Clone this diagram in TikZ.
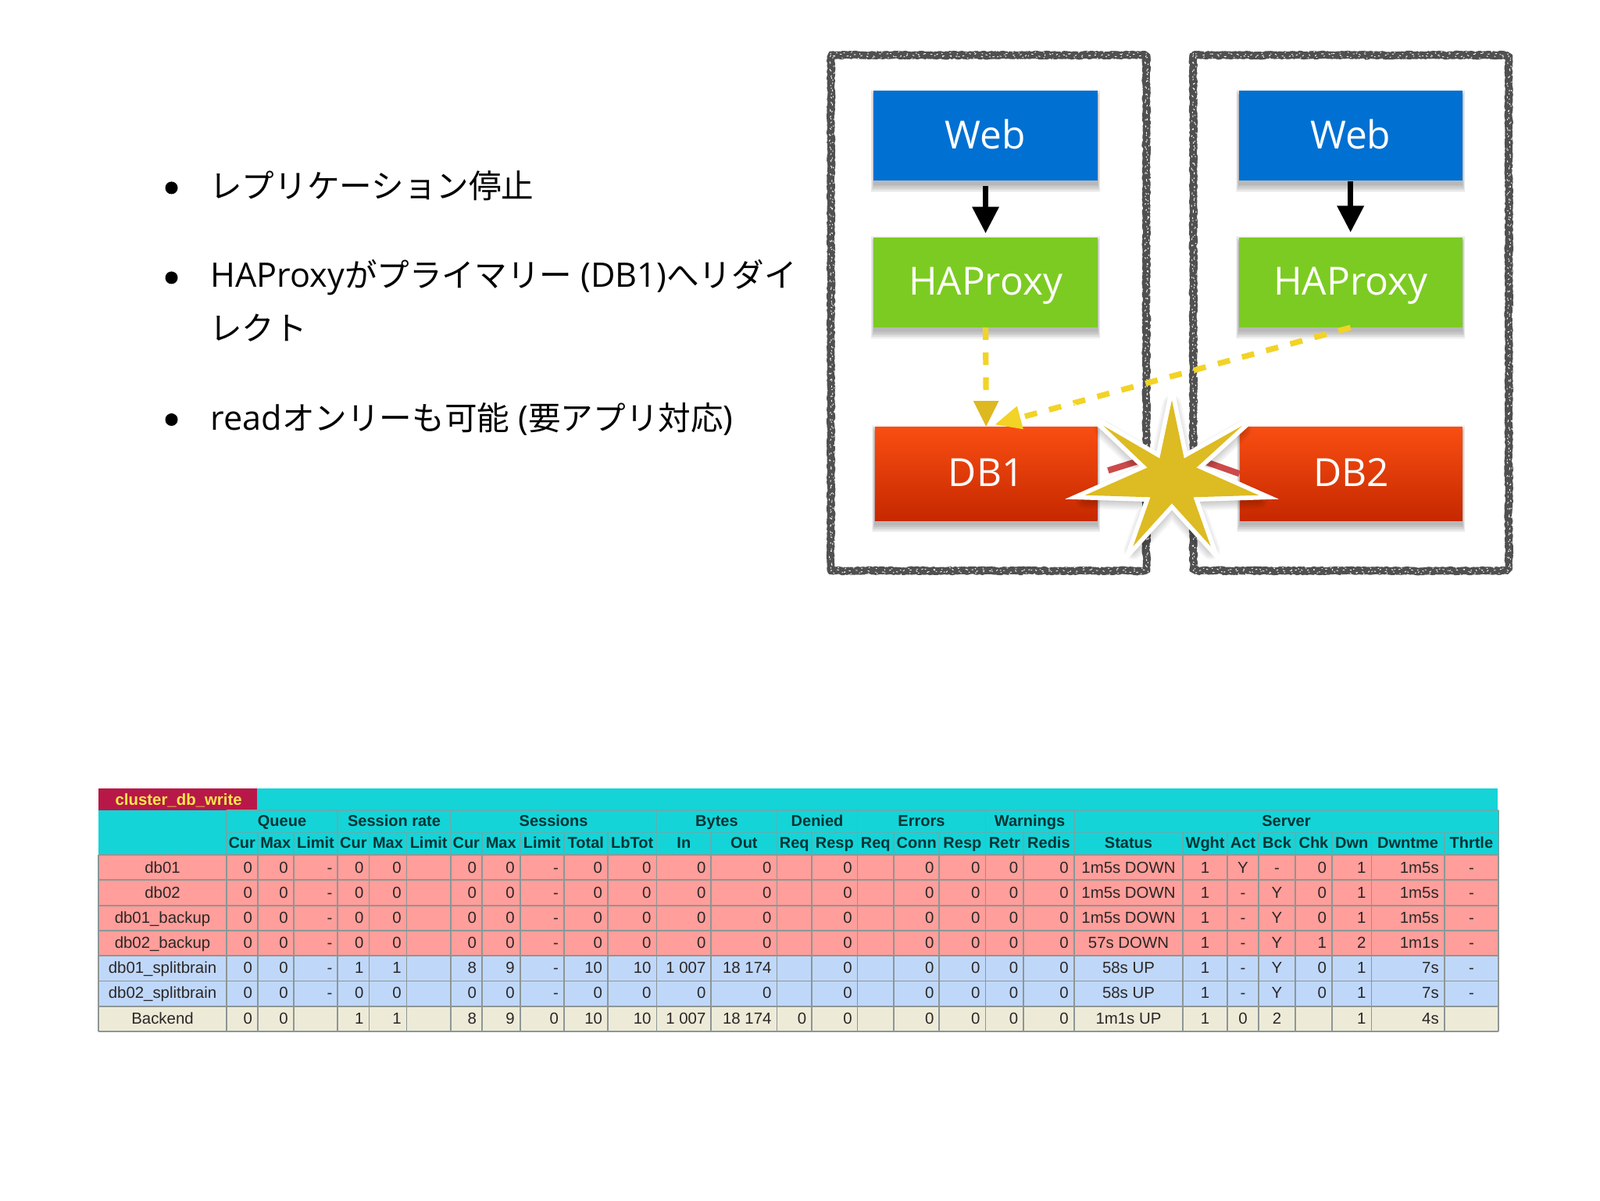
\documentclass[tikz,border=0pt]{standalone}
\usepackage{fontspec}
\setmainfont{Open Sans}
\newfontfamily\jp{Noto Sans CJK JP}
\newfontfamily\tb{Liberation Sans}
\usetikzlibrary{arrows.meta,decorations.pathmorphing,backgrounds,calc}
\definecolor{webblue}{HTML}{0070D2}
\definecolor{hagreen}{HTML}{7CCB22}
\definecolor{dbtop}{HTML}{F94E12}
\definecolor{dbbot}{HTML}{C62800}
\definecolor{chalkc}{HTML}{505050}
\definecolor{dashy}{HTML}{F2D326}
\definecolor{dashd}{HTML}{DDB820}
\definecolor{stargold}{HTML}{DDBB22}
\definecolor{linkred}{HTML}{CC4A4A}
\definecolor{hcyan}{HTML}{14D4D8}
\definecolor{rpink}{HTML}{FF9E9A}
\definecolor{rblue}{HTML}{BFD8FA}
\definecolor{rbeige}{HTML}{EDEBD8}
\definecolor{gridc}{HTML}{8E9696}
\definecolor{gridh}{HTML}{5EAFB0}
\definecolor{titler}{HTML}{B81848}
\definecolor{titley}{HTML}{F4E84A}
\definecolor{celltxt}{HTML}{2C2626}
\tikzset{
  svcbox/.style={minimum width=219*0.6533pt,inner sep=0pt,text=white,text height=16.4pt,text depth=0pt,
    font=\fontsize{24.8pt}{28pt}\selectfont},
  webbox/.style={svcbox,fill=webblue,minimum height=88*0.6533pt},
  habox/.style={svcbox,fill=hagreen,minimum height=88*0.6533pt},
  dbbox/.style={svcbox,top color=dbtop,bottom color=dbbot,minimum height=92*0.6533pt,minimum width=218*0.6533pt},
  solidarrow/.style={line width=3.4pt,-{Triangle[width=16.5pt,length=17pt]}},
  dasharrow/.style={line width=3.6pt,dash pattern=on 8pt off 8pt},
  chalk/.style={chalkc,line width=4.8pt,line join=bevel,decorate,decoration={random steps,segment length=1pt,amplitude=0.55pt}},
  chalkspeck/.style={white,line width=0.45pt,line join=bevel,dash pattern=on 1.2pt off 3.5pt,decorate,decoration={random steps,segment length=2pt,amplitude=1.2pt}},
  bodytext/.style={inner sep=0pt,anchor=base west,font=\fontsize{21.6pt}{25pt}\selectfont},
  bulletdot/.style={circle,fill=black,inner sep=0pt,minimum size=8pt},
  cell/.style={inner sep=0pt,text=celltxt,font=\tb\fontsize{10.2pt}{12pt}\selectfont},
  hcell/.style={inner sep=0pt,anchor=base,text=black!75!hcyan,font=\tb\bfseries\fontsize{10pt}{12pt}\selectfont},
}
\newcommand{\jt}[1]{{\jp\fontsize{20.8pt}{25pt}\selectfont #1}}
\newcommand{\softshadow}[1]{%
  \foreach \k in {0,1,...,6}{%
    \fill[black,opacity=0.045] ([shift={({-0.4*\k},{5-\k})}]#1.north west) rectangle ([shift={({0.4*\k},{4+1.2*\k})}]#1.south east);
  }}
\def\cols{{96.7,221.7,252.4,287.5,330.9,361.6,398.4,441.4,472.1,509.4,552.4,595.4,643.2,696.7,761.1,795.3,840,875.5,920.2,965.4,1002.7,1052.1,1158.9,1202.3,1233,1268.9,1304.8,1343.5,1414.8,1468}}
\newcommand{\colmid}[2]{%
  \pgfmathsetmacro\xaa{\cols[#1]}%
  \pgfmathsetmacro\xbb{\cols[#2]}%
  \pgfmathsetmacro\xx{(\xaa+\xbb)/2}}
\begin{document}
\begin{tikzpicture}[x=0.6533pt,y=-0.6533pt]
\useasboundingbox (0,0) rectangle (1567.4,1175.6);

% bullets and text
\node[bulletdot] (b1) at (168,184) {};
\node[bulletdot] (b2) at (168,272) {};
\node[bulletdot] (b3) at (168,411) {};
\node[bodytext] (t1) at (205,194) {\jt{レプリケーション停止}};
\node[bodytext] (t2) at (206,281) {HAProxy\jt{がプライマリー} (DB1)\jt{へリダイ}};
\node[bodytext] (t2b) at (205,333) {\jt{レクト}};
\node[bodytext] (t3) at (206,421) {read\jt{オンリーも可能} (\jt{要アプリ対応})};

% chalk containers
\foreach \xa/\xb in {814/1123,1169/1478}{
  \draw[chalk] (\xa,54) rectangle (\xb,559);
  \draw[chalk,line width=3.6pt,decoration={random steps,segment length=1.5pt,amplitude=1.2pt}] (\xa,54) rectangle (\xb,559);
  \draw[chalkspeck] (\xa,54) rectangle (\xb,559);
  \draw[chalkspeck,dash pattern=on 0.8pt off 5pt] (\xa,52) rectangle (\xb,557);
  \draw[chalkspeck,dash pattern=on 0.8pt off 5pt] (\xa+2,56) rectangle (\xb+2,561);
}

% service nodes
\node[webbox] (web1) at (965.5,133) {Web};
\node[webbox] (web2) at (1323,133) {Web};
\node[habox] (ha1) at (965.5,276.5) {HAProxy};
\node[habox] (ha2) at (1323,276.5) {HAProxy};
\node[dbbox] (db1) at (966,464) {DB1};
\node[dbbox] (db2) at (1323.5,464) {DB2};
\begin{pgfonlayer}{background}
  \fill[white] (0,0) rectangle (1567.4,1175.6);
  \softshadow{web1}\softshadow{web2}\softshadow{ha1}\softshadow{ha2}\softshadow{db1}\softshadow{db2}
\end{pgfonlayer}

% connectors
\draw[solidarrow,shorten <=3.2pt,shorten >=2.4pt] (web1.south) -- (ha1.north);
\draw[solidarrow,shorten >=3pt] (web2.south) -- (ha2.north);
\coordinate (peak) at (1149,441);
\draw[linkred,line width=4pt,shorten <=7pt] (db1.east) -- (peak) -- (db2.west);
\draw[dashy,dasharrow] (ha1.south) -- ($(db1.north)+(0,-24)$);
\coordinate (db1tip) at (db1.north);
\fill[dashd] (db1tip) -- ++(-12.5,-25) -- ++(25,0) -- cycle;
\coordinate (db1side) at ($(db1.north)+(9,-2)$);
\draw[dashy,dasharrow] (ha2.south) -- ($(db1side)!0.07!(ha2.south)$);
\fill[dashy] (db1side) -- ($(db1side)!0.07!(ha2.south)!0.035!90:(ha2.south)$) -- ($(db1side)!0.07!(ha2.south)!0.035!-90:(ha2.south)$) -- cycle;

% star
\foreach \k in {1,2,...,6}{
  \draw[black,opacity=0.035,line join=round,line width=\k*2pt,fill=black] [shift={(0,4)}] (1148,392) -- (1160,449) -- (1217,417) -- (1172,458) -- (1233,485) -- (1169,487) -- (1186,535) -- (1148,493) -- (1110,535) -- (1127,487) -- (1063,485) -- (1124,458) -- (1081,417) -- (1136,449) -- cycle;
}
\draw[white,line width=5.8pt,line join=miter,miter limit=14] (1148,392) -- (1160,449) -- (1217,417) -- (1172,458) -- (1233,485) -- (1169,487) -- (1186,535) -- (1148,493) -- (1110,535) -- (1127,487) -- (1063,485) -- (1124,458) -- (1081,417) -- (1136,449) -- cycle;
\fill[stargold] (1148,392) -- (1160,449) -- (1217,417) -- (1172,458) -- (1233,485) -- (1169,487) -- (1186,535) -- (1148,493) -- (1110,535) -- (1127,487) -- (1063,485) -- (1124,458) -- (1081,417) -- (1136,449) -- cycle;

% table: bands
\fill[hcyan] (96.7,772) rectangle (1467,837);
\fill[titler] (96.7,772) rectangle (251.5,793.7);
\node[inner sep=0pt,anchor=base,text=titley,font=\tb\bfseries\fontsize{10.2pt}{12pt}\selectfont] (ttl) at (175,788.5) {cluster\_db\_write};
\fill[rpink] (96.7,837) rectangle (1468,935.8);
\fill[rblue] (96.7,935.8) rectangle (1468,985.5);
\fill[rbeige] (96.7,985.5) rectangle (1468,1010);

% table: grid
\begin{scope}[line width=0.9pt]
\foreach \yy in {862,886.8,911.5,935.8,960.8,985.5}{
  \draw[gridc] (96.7,\yy) -- (1468,\yy);
}
\draw[gridc] (96.7,837) -- (1468,837);
\draw[gridc] (96.7,1010) -- (1468,1010);
\draw[gridc] (96.7,837) -- (96.7,1010);
\draw[gridh] (221.7,793.7) -- (1468,793.7);
\draw[gridh] (221.7,815.4) -- (1468,815.4);
\foreach \i in {1,2,...,29}{
  \pgfmathsetmacro\xx{\cols[\i]}
  \draw[gridc] (\xx,837) -- (\xx,1010);
  \draw[gridh] (\xx,815.4) -- (\xx,837);
}
\foreach \i in {1,4,7,12,14,16,19,21,29}{
  \pgfmathsetmacro\xx{\cols[\i]}
  \draw[gridh] (\xx,793.7) -- (\xx,815.4);
}
\end{scope}

% table: group headers
\foreach \ga/\gb/\g [count=\n] in {1/4/Queue,4/7/Session rate,7/12/Sessions,12/14/Bytes,14/16/Denied,16/19/Errors,19/21/Warnings,21/29/Server}{
  \colmid{\ga}{\gb}
  \node[hcell] (g\n) at (\xx,809.5) {\g};
}
% table: column headers
\foreach \h [count=\c] in {Cur,Max,Limit,Cur,Max,Limit,Cur,Max,Limit,Total,LbTot,In,Out,Req,Resp,Req,Conn,Resp,Retr,Redis,Status,Wght,Act,Bck,Chk,Dwn,Dwntme,Thrtle}{
  \pgfmathtruncatemacro\cn{\c+1}
  \colmid{\c}{\cn}
  \node[hcell] (h\c) at (\xx,831) {\h};
}
% table: data
\foreach \yb/\rowcells [count=\r] in {
 855/{db01,0,0,-,0,0,,0,0,-,0,0,0,0,,0,,0,0,0,0,1m5s DOWN,1,Y,-,0,1,1m5s,-},
 879.5/{db02,0,0,-,0,0,,0,0,-,0,0,0,0,,0,,0,0,0,0,1m5s DOWN,1,-,Y,0,1,1m5s,-},
 904.2/{db01\_backup,0,0,-,0,0,,0,0,-,0,0,0,0,,0,,0,0,0,0,1m5s DOWN,1,-,Y,0,1,1m5s,-},
 928.7/{db02\_backup,0,0,-,0,0,,0,0,-,0,0,0,0,,0,,0,0,0,0,57s DOWN,1,-,Y,1,2,1m1s,-},
 953.3/{db01\_splitbrain,0,0,-,1,1,,8,9,-,10,10,1 007,18 174,,0,,0,0,0,0,58s UP,1,-,Y,0,1,7s,-},
 978/{db02\_splitbrain,0,0,-,0,0,,0,0,-,0,0,0,0,,0,,0,0,0,0,58s UP,1,-,Y,0,1,7s,-},
 1002.7/{Backend,0,0,,1,1,,8,9,0,10,10,1 007,18 174,0,0,,0,0,0,0,1m1s UP,1,0,2,,1,4s,}}{
  \foreach \t [count=\c] in \rowcells {
    \pgfmathtruncatemacro\isC{(\c==1)||(\c>=22&&\c<=25)||(\c==29)}
    \ifnum\isC=1
      \pgfmathtruncatemacro\cp{\c-1}
      \colmid{\cp}{\c}
      \node[cell,anchor=base] (r\r c\c) at (\xx,\yb) {\t};
    \else
      \pgfmathsetmacro\xaa{\cols[\c]}
      \pgfmathsetmacro\xx{\xaa-5}
      \node[cell,anchor=base east] (r\r c\c) at (\xx,\yb) {\t};
    \fi
  }
}
\end{tikzpicture}
\end{document}
